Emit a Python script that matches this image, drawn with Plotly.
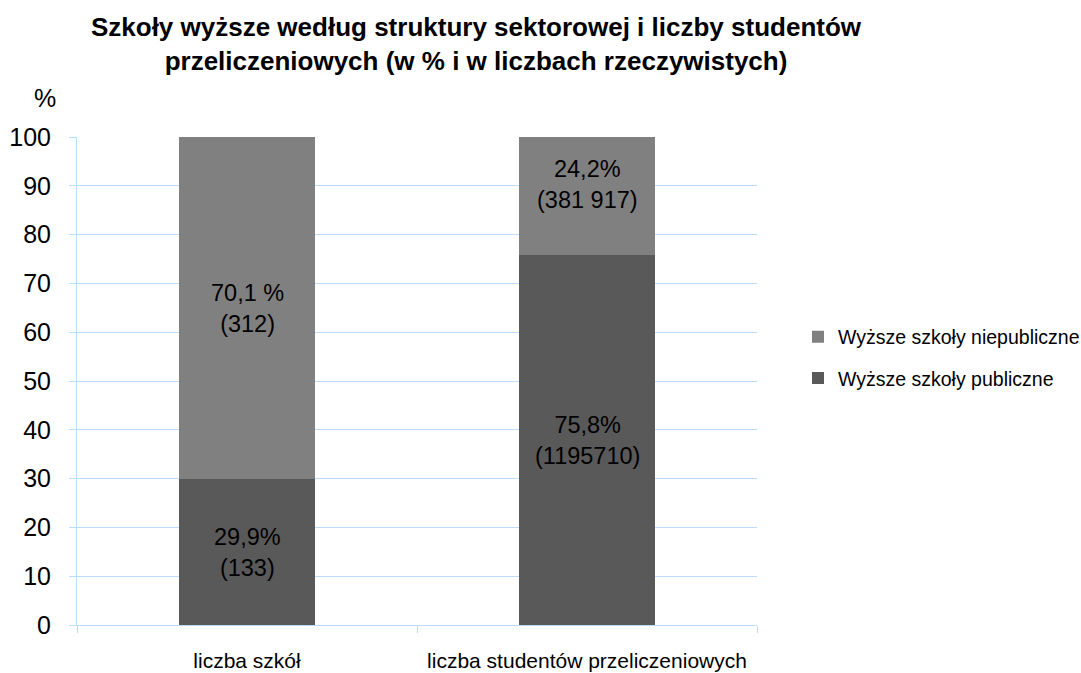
import plotly.graph_objects as go

categories = ["liczba szkół", "liczba studentów przeliczeniowych"]
publiczne = [29.9, 75.8]
niepubliczne = [70.1, 24.2]
publiczne_labels = ["29,9%<br>(133)", "75,8%<br>(1195710)"]
niepubliczne_labels = ["70,1 %<br>(312)", "24,2%<br>(381 917)"]
y_ticks = [0, 10, 20, 30, 40, 50, 60, 70, 80, 90, 100]

FONT = "Liberation Sans, Arial, sans-serif"
GRID = "#BDDCFB"

fig = go.Figure()
fig.add_trace(go.Bar(x=categories, y=publiczne, name="Wyższe szkoły publiczne",
                     legendgroup="pub", legendrank=2,
                     marker=dict(color="#595959", line=dict(width=0))))
fig.add_trace(go.Bar(x=categories, y=niepubliczne, name="Wyższe szkoły niepubliczne",
                     legendgroup="niepub", legendrank=1,
                     marker=dict(color="#808080", line=dict(width=0))))

# labels inside segments
niepub_label_y = [publiczne[0] + niepubliczne[0] / 2, 90.2]
for i, c in enumerate(categories):
    fig.add_annotation(x=c, y=publiczne[i] / 2, text=publiczne_labels[i], showarrow=False,
                       font=dict(size=23.5, color="#000000", family=FONT))
    fig.add_annotation(x=c, y=niepub_label_y[i], text=niepubliczne_labels[i],
                       showarrow=False, font=dict(size=23.5, color="#000000", family=FONT))

fig.add_annotation(xref="paper", yref="paper", x=-0.047, y=1.08, text="%", showarrow=False,
                   xanchor="center", yanchor="middle", font=dict(size=25, color="#000000", family=FONT))

fig.update_layout(
    width=1081, height=673,
    barmode="stack", bargap=0.6,
    plot_bgcolor="white", paper_bgcolor="white",
    margin=dict(l=77, r=324, t=137, b=48),
    font=dict(family=FONT, color="#000000"),
    title=dict(text="<b>Szkoły wyższe według struktury sektorowej i liczby studentów<br>przeliczeniowych (w % i w liczbach rzeczywistych)</b>",
               x=476 / 1081, xanchor="center", y=1 - 36 / 673, yanchor="middle",
               font=dict(size=26, family=FONT, color="#000000")),
    legend=dict(xref="container", yref="container", x=798 / 1081, y=1 - 357.5 / 673,
                xanchor="left", yanchor="middle", traceorder="grouped",
                font=dict(size=19.5, family=FONT, color="#000000"),
                tracegroupgap=13, bgcolor="rgba(0,0,0,0)"),
    xaxis=dict(showline=True, linecolor=GRID, linewidth=1, ticks="outside", tickson="boundaries",
               tickcolor=GRID, ticklen=7, showgrid=False, tickfont=dict(size=21), tickangle=0,
               ticklabelstandoff=17, automargin=False),
    yaxis=dict(range=[0, 100], tickvals=y_ticks, showline=True, linecolor=GRID, linewidth=1,
               ticks="outside", tickcolor=GRID, ticklen=7, showgrid=True, gridcolor=GRID, gridwidth=1,
               zeroline=False, tickfont=dict(size=25), ticklabelstandoff=13, automargin=False),
)

fig.write_html("out.html", config={"displayModeBar": False},
               post_script="document.body.style.margin='0';document.body.style.overflow='hidden';")
